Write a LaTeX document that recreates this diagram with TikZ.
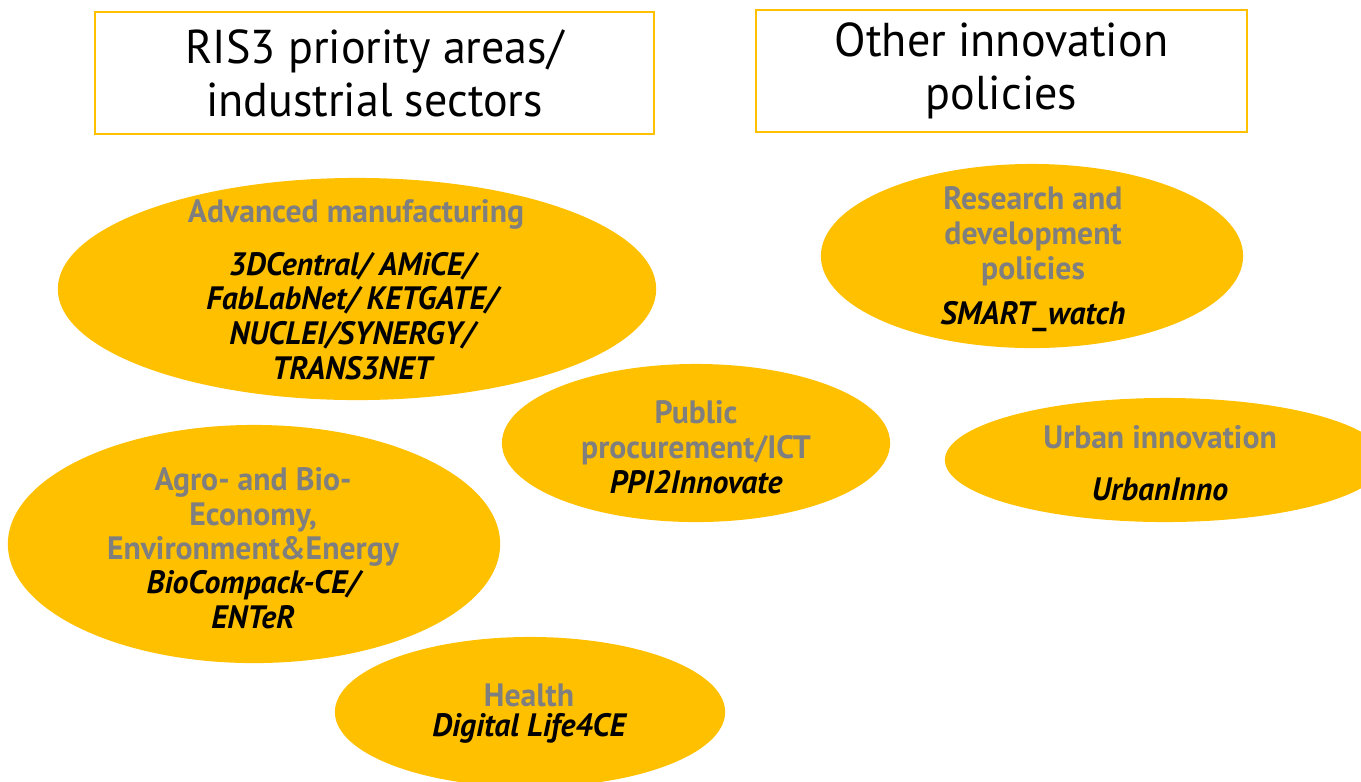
\documentclass[tikz,border=0pt]{standalone}
\usepackage{fontspec}
\setmainfont{PT Sans}
\newfontfamily\headfont[FakeStretch=0.97]{PT Sans}
\newfontfamily\blobfont[FakeStretch=0.98]{PT Sans}
\usetikzlibrary{shapes.geometric}
\definecolor{gold}{HTML}{FFC000}
\definecolor{areagray}{HTML}{7F7F7F}
\tikzset{
  headbox/.style={draw=gold,line width=0.7pt,rectangle,align=center,
    font=\headfont\fontsize{13.5}{15.1}\selectfont},
  blob/.style={ellipse,fill=gold,draw=none,inner sep=0pt},
  area/.style={text=areagray,align=center,inner sep=0.5pt,
    font=\blobfont\fontsize{9.2}{9.9}\selectfont\bfseries},
  proj/.style={align=center,inner sep=0.5pt,
    font=\blobfont\fontsize{9.2}{9.9}\selectfont\bfseries\itshape}
}

\begin{document}
\begin{tikzpicture}[x=0.01cm,y=-0.01cm]
    \useasboundingbox (0,0) rectangle (1361,781);
    \clip (0,0) rectangle (1361,781);
    \coordinate (Adv) at (357,289);
    \coordinate (PPI) at (696,443);
    \coordinate (Agro) at (254,544);
    \coordinate (Health) at (530,712);
    \coordinate (RnD) at (1032,256);
    \coordinate (Urban) at (1165,460);
    % headers
    \node[headbox,minimum width=5.59cm,minimum height=1.22cm] (RISHead) at (374.5,73)
        {RIS3 priority areas/\\industrial sectors};
    \node[headbox,minimum width=4.91cm,minimum height=1.22cm] (OtherHead) at (1001.5,71)
        {Other innovation\\policies};
    % ellipses
    \node[blob,minimum width=5.98cm,minimum height=2.22cm] (AdvBlob) at (Adv){};
    \node[blob,minimum width=3.88cm,minimum height=1.58cm] (PPIBlob) at (PPI){};
    \node[blob,minimum width=4.92cm,minimum height=2.38cm] (AgroBlob) at (Agro){};
    \node[blob,minimum width=3.90cm,minimum height=1.50cm] (HealthBlob) at (Health){};
    \node[blob,minimum width=4.22cm,minimum height=1.84cm] (RnDBlob) at (RnD){};
    \node[blob,minimum width=4.40cm,minimum height=1.24cm] (UrbanBlob) at (Urban){};
    % texts
    \node[area] (AdvArea) at (356,214) {Advanced manufacturing};
    \node[proj] (AdvProj) at (352,316) {3DCentral/ AMiCE/\\FabLabNet/ KETGATE/\\NUCLEI/SYNERGY/\\TRANS3NET};
    \node[area] (PPIArea) at (696,433) {Public\\procurement/ICT};
    \node[proj] (PPIProj) at (696,482) {PPI2Innovate};
    \node[area] (AgroArea) at (253,517) {Agro- and Bio-\\Economy,\\Environment\&Energy};
    \node[proj] (AgroProj) at (253,599.5) {BioCompack-CE/\\ENTeR};
    \node[area] (HealthArea) at (529,695) {Health};
    \node[proj] (HealthProj) at (529,728) {Digital Life4CE};
    \node[area] (RnDArea) at (1033,236) {Research and\\development\\policies};
    \node[proj] (RnDProj) at (1033,317) {SMART\_watch};
    \node[area] (UrbanArea) at (1160,437) {Urban innovation};
    \node[proj] (UrbanProj) at (1160,489) {UrbanInno};
\end{tikzpicture}
\end{document}
